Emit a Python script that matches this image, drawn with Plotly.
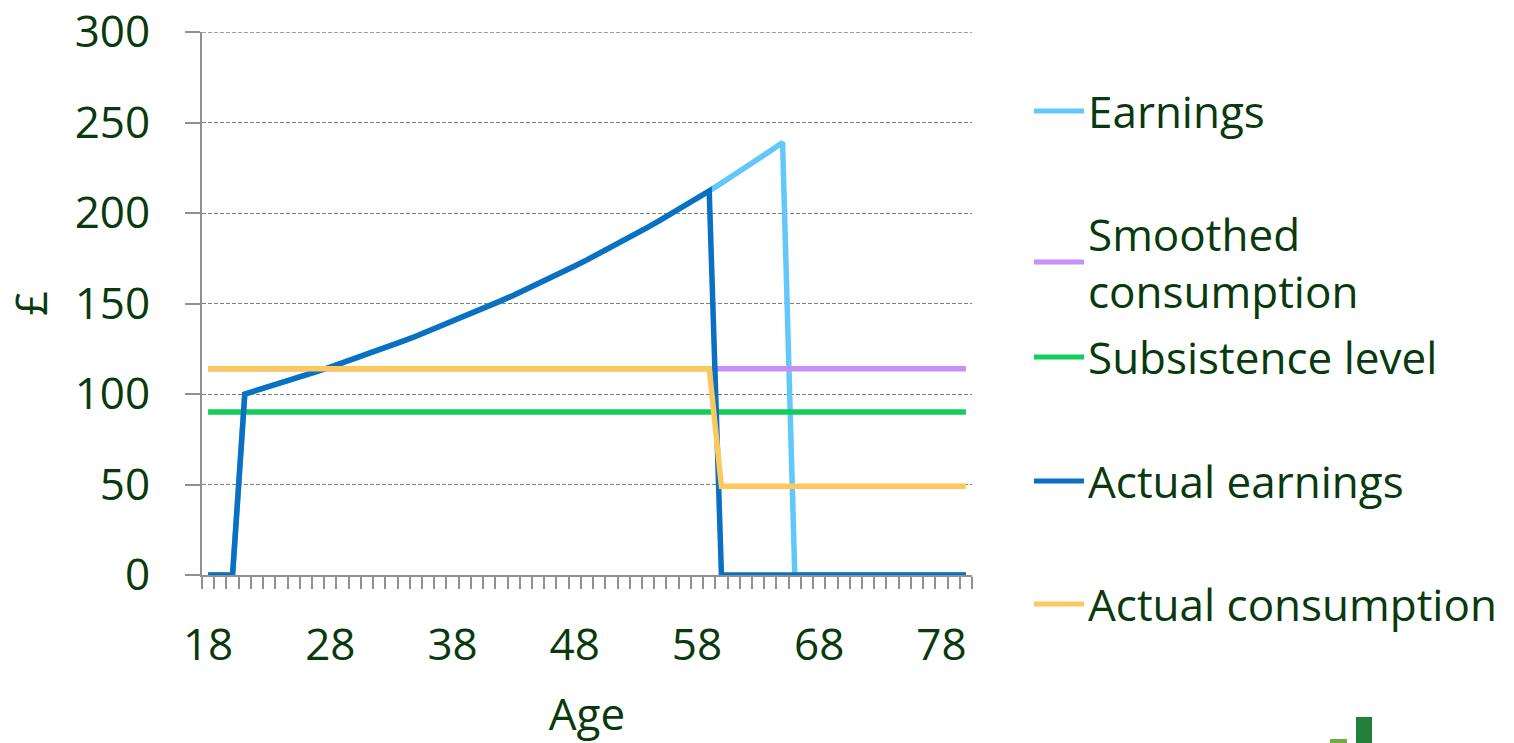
import plotly.graph_objects as go

# Ages on the horizontal axis (one category per year)
ages = list(range(18, 81))

# Earnings path (£), ages 18-80
earnings = [
    0, 0, 0,
    100.0, 102.0, 104.0, 106.1, 108.2, 110.4, 112.6, 114.9, 117.2, 119.5,
    121.9, 124.3, 126.8, 129.4, 131.9, 134.6, 137.3, 140.0, 142.8, 145.7,
    148.6, 151.6, 154.6, 157.7, 160.8, 164.1, 167.3, 170.7, 174.1, 177.6,
    181.1, 184.8, 188.5, 192.2, 196.1, 200.0, 204.0, 208.1, 212.2, 216.5,
    220.8, 225.2, 229.7, 234.3, 239.0,
    0, 0, 0, 0, 0, 0, 0, 0, 0, 0, 0, 0, 0, 0, 0,
]

smoothed_consumption = [
    114, 114, 114, 114, 114, 114, 114, 114, 114, 114, 114, 114, 114, 114,
    114, 114, 114, 114, 114, 114, 114, 114, 114, 114, 114, 114, 114, 114,
    114, 114, 114, 114, 114, 114, 114, 114, 114, 114, 114, 114, 114, 114,
    114, 114, 114, 114, 114, 114, 114, 114, 114, 114, 114, 114, 114, 114,
    114, 114, 114, 114, 114, 114, 114,
]

subsistence_level = [
    90, 90, 90, 90, 90, 90, 90, 90, 90, 90, 90, 90, 90, 90, 90, 90,
    90, 90, 90, 90, 90, 90, 90, 90, 90, 90, 90, 90, 90, 90, 90, 90,
    90, 90, 90, 90, 90, 90, 90, 90, 90, 90, 90, 90, 90, 90, 90, 90,
    90, 90, 90, 90, 90, 90, 90, 90, 90, 90, 90, 90, 90, 90, 90,
]

actual_earnings = [
    0, 0, 0,
    100.0, 102.0, 104.0, 106.1, 108.2, 110.4, 112.6, 114.9, 117.2, 119.5,
    121.9, 124.3, 126.8, 129.4, 131.9, 134.6, 137.3, 140.0, 142.8, 145.7,
    148.6, 151.6, 154.6, 157.7, 160.8, 164.1, 167.3, 170.7, 174.1, 177.6,
    181.1, 184.8, 188.5, 192.2, 196.1, 200.0, 204.0, 208.1, 212.2,
    0, 0, 0, 0, 0, 0, 0, 0, 0, 0, 0, 0, 0, 0, 0, 0, 0, 0, 0, 0, 0,
]

actual_consumption = [
    114, 114, 114, 114, 114, 114, 114, 114, 114, 114, 114, 114, 114, 114,
    114, 114, 114, 114, 114, 114, 114, 114, 114, 114, 114, 114, 114, 114,
    114, 114, 114, 114, 114, 114, 114, 114, 114, 114, 114, 114, 114, 114,
    49, 49, 49, 49, 49, 49, 49, 49, 49, 49, 49, 49, 49, 49, 49, 49, 49,
    49, 49, 49, 49,
]

x_labels = [18, 28, 38, 48, 58, 68, 78]
y_ticks = [0, 50, 100, 150, 200, 250, 300]

series = [
    ("Earnings", earnings, "#62C8FA"),
    ("Smoothed<br>consumption", smoothed_consumption, "#C690F6"),
    ("Subsistence level", subsistence_level, "#12CC5C"),
    ("Actual earnings", actual_earnings, "#0A70C2"),
    ("Actual consumption", actual_consumption, "#FDC95E"),
]

TEXT = "#093A0E"
AXIS = "#8E918E"
GRID = "#7E817E"
FONT = "Open Sans"
FS = 44

fig = go.Figure()
for name, vals, color in series:
    fig.add_trace(go.Scatter(
        x=ages, y=vals, mode="lines", name=name.replace("<br>", " "),
        line=dict(color=color, width=5.5), showlegend=False,
    ))

W, H = 1514, 743
L, R, T, B = 202, 972, 32, 575

def px(x):
    return (x - L) / (R - L)

def py(y):
    return (B - y) / (B - T)

shapes = []
annotations = []

# Top gridline at the upper edge of the value range
shapes.append(dict(type="line", xref="paper", yref="y", layer="below",
                   x0=0, x1=1, y0=y_ticks[-1], y1=y_ticks[-1],
                   line=dict(color=GRID, width=1.3, dash="4px,2px")))

# Legend drawn at the right: sample line + label per series
legend_rows = [111, 262, 357, 481, 604]
for (name, _, color), yc in zip(series, legend_rows):
    shapes.append(dict(type="line", xref="paper", yref="paper",
                       x0=px(1034), x1=px(1084), y0=py(yc), y1=py(yc),
                       line=dict(color=color, width=5)))
    annotations.append(dict(xref="paper", yref="paper", x=px(1086), y=py(yc),
                            text=name, showarrow=False, xanchor="left",
                            yanchor="middle", align="left",
                            font=dict(family=FONT, size=FS, color=TEXT)))

# Small green bars in the lower right corner
shapes.append(dict(type="rect", xref="paper", yref="paper",
                   x0=px(1330), x1=px(1347), y0=py(745), y1=py(739),
                   fillcolor="#6FAE3E", line=dict(width=0)))
shapes.append(dict(type="rect", xref="paper", yref="paper",
                   x0=px(1356), x1=px(1372), y0=py(745), y1=py(717),
                   fillcolor="#23803A", line=dict(width=0)))

fig.update_layout(
    width=W, height=H,
    margin=dict(l=L, r=W - R, t=T, b=H - B, pad=0, autoexpand=False),
    paper_bgcolor="white", plot_bgcolor="white",
    font=dict(family=FONT, size=FS, color=TEXT),
    shapes=shapes, annotations=annotations,
    xaxis=dict(
        range=[17.5, 80.5], tickmode="array", tickvals=x_labels,
        ticks="", showgrid=False, zeroline=False, automargin=False,
        showline=True, linecolor=AXIS, linewidth=2,
        ticklabelstandoff=30,
        tickfont=dict(family=FONT, size=FS, color=TEXT),
        minor=dict(ticks="outside", tick0=17.5, dtick=1, ticklen=12,
                   tickcolor=AXIS, tickwidth=2, showgrid=False),
        title=dict(text="Age", standoff=32,
                   font=dict(family=FONT, size=FS, color=TEXT)),
    ),
    yaxis=dict(
        range=[0, 300], tickmode="array", tickvals=y_ticks,
        ticks="outside", ticklen=15, tickcolor=AXIS, tickwidth=2,
        showline=True, linecolor=AXIS, linewidth=2, zeroline=False,
        automargin=False,
        showgrid=True, gridcolor=GRID, gridwidth=1.3, griddash="4px,2px",
        ticklabelstandoff=26,
        tickfont=dict(family=FONT, size=FS, color=TEXT),
        title=dict(text="£", standoff=30,
                   font=dict(family=FONT, size=FS, color=TEXT)),
    ),
)

fig.write_html("out.html")
